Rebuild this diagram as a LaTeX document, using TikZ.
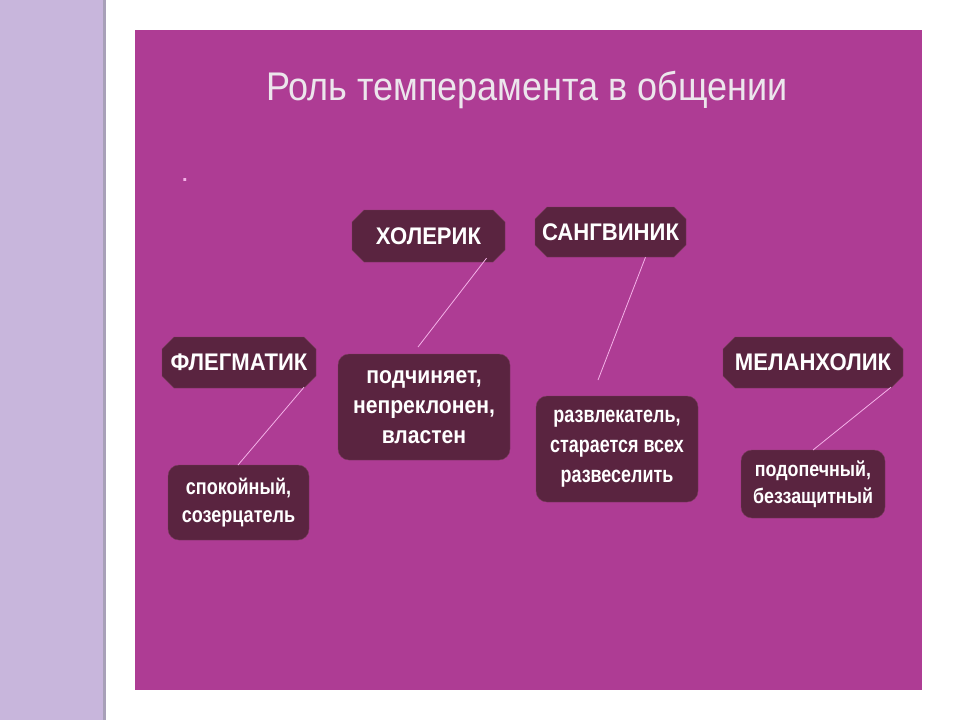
\documentclass[tikz,border=0pt]{standalone}
\usepackage{fontspec}
\setmainfont{Liberation Sans}
\usetikzlibrary{shapes.misc}

\definecolor{stripe}{RGB}{200,182,220}
\definecolor{stripeedge}{RGB}{168,160,184}
\definecolor{panel}{RGB}{174,60,148}
\definecolor{boxfill}{RGB}{90,36,64}
\definecolor{boxline}{RGB}{120,60,92}
\definecolor{linkcol}{RGB}{244,178,232}
\definecolor{titlecol}{RGB}{236,230,236}

% size, line skip, horizontal squeeze
\newcommand{\boxfont}[3]{\fontsize{#1}{#2}\selectfont\bfseries\addfontfeatures{FakeStretch=#3}}

\begin{document}
\begin{tikzpicture}[x=1pt,y=-1pt]

        % page, side stripe and panel
        \useasboundingbox (0,0) rectangle (960,720);
        \fill[white] (0,0) rectangle (960,720);
        \fill[stripe] (0,0) rectangle (103,720);
        \fill[stripeedge] (103,0) rectangle (106,720);
        \fill[panel] (135,30) rectangle (922,690);

        \node[text=titlecol, font=\fontsize{40}{46}\selectfont\addfontfeatures{FakeStretch=0.9}] (title) at (527,90) {Роль темперамента в общении};
        \node[text=linkcol, font=\fontsize{20}{24}\selectfont\bfseries] (dot) at (185,180) {.};

        \begin{scope}[every node/.style={chamfered rectangle, chamfered rectangle xsep=6pt,
            chamfered rectangle ysep=6pt, fill=boxfill, draw=boxline, text=white,
            font=\boxfont{24}{28}{0.92}, inner sep=0pt}]
          \node[minimum width=153, minimum height=52] (hol) at (428.5,236) {ХОЛЕРИК};
          \node[minimum width=151, minimum height=50] (san) at (610.5,232) {САНГВИНИК};
          \node[minimum width=154, minimum height=51] (fle) at (239,362.5) {ФЛЕГМАТИК};
          \node[minimum width=180, minimum height=51] (mel) at (813,362.5) {МЕЛАНХОЛИК};
        \end{scope}

        \begin{scope}[every node/.style={rectangle, rounded corners=11pt, fill=boxfill, draw=boxline,
            text=white, align=center, inner sep=0pt}]
          \node[minimum width=172, minimum height=106, font=\boxfont{24}{30}{0.88}]
            (podch) at (424,407) {подчиняет,\\непреклонен,\\властен};
          \node[minimum width=162, minimum height=106, font=\boxfont{23}{30}{0.78}]
            (razv) at (617,449) {развлекатель,\\старается всех\\развеселить};
          \node[minimum width=141, minimum height=75, font=\boxfont{22}{28}{0.82}]
            (spok) at (238.5,502.5) {спокойный,\\созерцатель};
          \node[minimum width=144, minimum height=68, font=\boxfont{21}{27}{0.85}]
            (podop) at (813,484) {подопечный,\\беззащитный};
        \end{scope}

        % free ends of the links
        \coordinate (holend) at (418,347);
        \coordinate (sanend) at (598,380);
        \coordinate (fleend) at (238,465);
        \coordinate (melend) at (813,450);

        \begin{scope}[every edge/.style={draw=linkcol, line width=0.8pt}]
          \path (hol.south) ++(58,-4) coordinate (holstart) edge (holend);
          \path (san.south) ++(35,0) coordinate (sanstart) edge (sanend);
          \path (fle.south) ++(65,-1) coordinate (flestart) edge (fleend);
          \path (mel.south) ++(78,-1) coordinate (melstart) edge (melend);
        \end{scope}

      \end{tikzpicture}
\end{document}
